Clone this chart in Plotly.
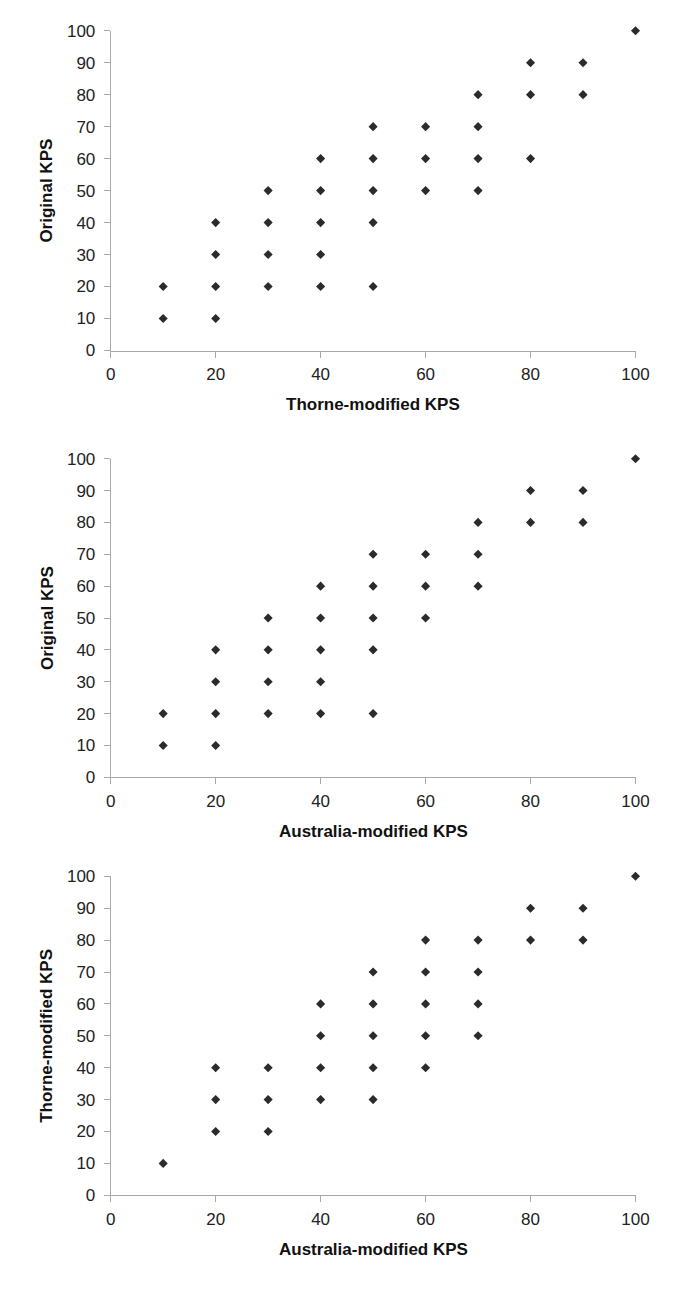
import plotly.graph_objects as go

# panel 1: Thorne-modified (x) vs Original (y)
thorne_x1 = [10, 10, 20, 20, 20, 20, 30, 30, 30, 30, 40, 40, 40, 40, 40,
             50, 50, 50, 50, 50, 60, 60, 60, 70, 70, 70, 70, 80, 80, 80, 90, 90, 100]
original_y1 = [10, 20, 10, 20, 30, 40, 20, 30, 40, 50, 20, 30, 40, 50, 60,
               20, 40, 50, 60, 70, 50, 60, 70, 50, 60, 70, 80, 60, 80, 90, 80, 90, 100]

# panel 2: Australia-modified (x) vs Original (y)
australia_x2 = [10, 10, 20, 20, 20, 20, 30, 30, 30, 30, 40, 40, 40, 40, 40,
                50, 50, 50, 50, 50, 60, 60, 60, 70, 70, 70, 80, 80, 90, 90, 100]
original_y2 = [10, 20, 10, 20, 30, 40, 20, 30, 40, 50, 20, 30, 40, 50, 60,
               20, 40, 50, 60, 70, 50, 60, 70, 60, 70, 80, 80, 90, 80, 90, 100]

# panel 3: Australia-modified (x) vs Thorne-modified (y)
australia_x3 = [10, 20, 20, 20, 30, 30, 30, 40, 40, 40, 40, 50, 50, 50, 50, 50,
                60, 60, 60, 60, 60, 70, 70, 70, 70, 80, 80, 90, 90, 100]
thorne_y3 = [10, 20, 30, 40, 20, 30, 40, 30, 40, 50, 60, 30, 40, 50, 60, 70,
             40, 50, 60, 70, 80, 50, 60, 70, 80, 80, 90, 80, 90, 100]

x_titles = ['Thorne-modified KPS', 'Australia-modified KPS', 'Australia-modified KPS']
y_titles = ['Original KPS', 'Original KPS', 'Thorne-modified KPS']
tick_vals_x = [0, 20, 40, 60, 80, 100]
tick_vals_y = [0, 10, 20, 30, 40, 50, 60, 70, 80, 90, 100]

# page has an 8px body margin, so the figure is drawn 8px in from the window edge
OFF = 8
W, H = 685 - 2 * OFF, 1307 - 2 * OFF
x_left, x_right = 110.7 - OFF, 635.5 - OFF
# (top, bottom) pixel rows for each panel, in window coordinates
panels = [(30.7, 350.5), (458.7, 777.3), (876.3, 1195.3)]

tick_font = dict(family='Liberation Sans Narrow, Arial Narrow, Liberation Sans, Arial', size=17, color='#222222')
title_font = dict(family='Liberation Sans Narrow, Arial Narrow, Liberation Sans, Arial', size=17, color='#111111')

series = [(thorne_x1, original_y1), (australia_x2, original_y2), (australia_x3, thorne_y3)]

graphs = []
for i, (xs, ys) in enumerate(series):
    suffix = '' if i == 0 else str(i + 1)
    graphs.append(go.Scatter(
        x=xs, y=ys,
        mode='markers',
        marker=dict(symbol='diamond', size=7, color='#2b2b2b'),
        xaxis='x' + suffix, yaxis='y' + suffix,
        cliponaxis=False,
        showlegend=False,
    ))

layout = go.Layout(
    width=W, height=H,
    margin=dict(l=0, r=0, t=0, b=0),
    paper_bgcolor='white',
    plot_bgcolor='white',
)

axis_common = dict(
    range=[0, 100], showgrid=False, zeroline=False,
    showline=True, linecolor='#a8a8a8', linewidth=1,
    ticks='outside', ticklen=6, tickcolor='#a8a8a8', tickwidth=1,
    tickfont=tick_font, automargin=False, fixedrange=True,
)

annotations = []
for i, (top, bottom) in enumerate(panels):
    suffix = '' if i == 0 else str(i + 1)
    top, bottom = top - OFF, bottom - OFF
    ydom = [1 - bottom / H, 1 - top / H]
    layout['xaxis' + suffix] = dict(
        axis_common, domain=[x_left / W, x_right / W],
        anchor='y' + suffix, tickvals=tick_vals_x, ticklabelstandoff=2,
    )
    layout['yaxis' + suffix] = dict(
        axis_common, domain=ydom,
        anchor='x' + suffix, tickvals=tick_vals_y, ticklabelstandoff=5,
    )
    annotations.append(dict(
        text='<b>' + x_titles[i] + '</b>', xref='paper', yref='paper',
        x=(x_left + x_right) / 2 / W, y=1 - (bottom + 54) / H,
        showarrow=False, font=title_font, xanchor='center', yanchor='middle',
    ))
    annotations.append(dict(
        text='<b>' + y_titles[i] + '</b>', xref='paper', yref='paper',
        x=(47 - OFF) / W, y=1 - (top + bottom) / 2 / H, textangle=-90,
        showarrow=False, font=title_font, xanchor='center', yanchor='middle',
    ))

layout['annotations'] = annotations

fig = go.Figure(data=graphs, layout=layout)
fig.write_html("out.html")
